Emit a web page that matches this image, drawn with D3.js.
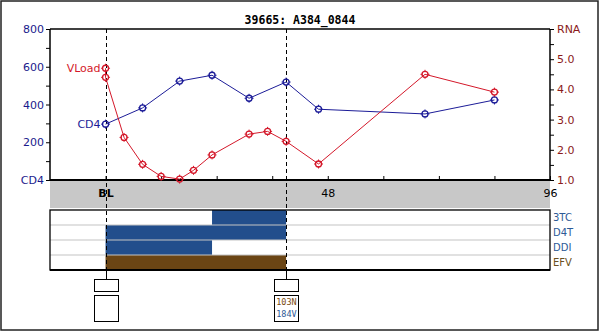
<!DOCTYPE html>
<html><head><meta charset="utf-8">
<script src="https://cdn.jsdelivr.net/npm/d3@7"></script>
<style>body{margin:0;background:#fff}svg{display:block}</style>
</head><body>
<svg id="c" width="600" height="332"></svg>
<script>
const title = "39665: A384_0844";
const cd4Weeks = [0, 8, 16, 23, 31, 39, 46, 69, 84];
const cd4Values = [296, 382, 524, 555, 433, 519, 375, 350, 424];
const rnaWeeks = [0, 0, 4, 8, 12, 16, 19, 23, 31, 35, 39, 46, 69, 84];
const rnaValues = [4.70, 4.40, 2.41, 1.52, 1.12, 1.03, 1.32, 1.83, 2.52, 2.61, 2.28, 1.53, 4.50, 3.91];
const cd4TickValues = [0, 100, 200, 300, 400, 500, 600, 700, 800];
const cd4TickLabels = {0: "CD4", 200: "200", 400: "400", 600: "600", 800: "800"};
const rnaTickValues = [1, 1.5, 2, 2.5, 3, 3.5, 4, 4.5, 5, 5.5, 6];
const rnaTickLabels = {1: "1.0", 2: "2.0", 3: "3.0", 4: "4.0", 5: "5.0", 6: "RNA"};
const weekTickValues = [0, 12, 24, 36, 48, 60, 72, 84, 96];
const weekTickLabels = {0: "BL", 48: "48", 96: "96"};
const drugs = ["3TC", "D4T", "DDI", "EFV"];
const drugStart = [23, 0, 0, 0];
const drugEnd = [39, 39, 23, 39];
const drugColors = ["#224e8c", "#224e8c", "#224e8c", "#6b4514"];
const drugLabelColors = ["#2d5a96", "#2d5a96", "#2d5a96", "#6b5020"];
const genoWeeks = [0, 39];
const genoMutations = [[], [["103N", "#7a4a10"], ["184V", "#2d5a96"]]];

const svg = d3.select("#c");
const font = "DejaVu Sans, Verdana, sans-serif";
const L = 50, R = 550, T = 29, B = 180;
const x = d3.scaleLinear().domain([-12, 96]).range([L, R]);
const yC = d3.scaleLinear().domain([0, 800]).range([B, T]);
const yR = d3.scaleLinear().domain([1, 6]).range([B, T]);

// outer border
svg.append("rect").attr("x", 1).attr("y", 1).attr("width", 597).attr("height", 329)
  .attr("fill", "none").attr("stroke", "#222").attr("stroke-width", 1.5);

// title
svg.append("text").attr("x", 300).attr("y", 24).attr("text-anchor", "middle")
  .attr("font-family", "DejaVu Sans Mono, monospace").attr("font-weight", "bold")
  .attr("font-size", 11.5).text(title);

// gray band
svg.append("rect").attr("x", L).attr("y", B).attr("width", R - L).attr("height", 28).attr("fill", "#c8c8c8");

// frame lines
svg.append("line").attr("x1", L).attr("x2", R).attr("y1", T).attr("y2", T).attr("stroke", "#000").attr("stroke-width", 1.5);
svg.append("line").attr("x1", L).attr("x2", L).attr("y1", T).attr("y2", B).attr("stroke", "#000").attr("stroke-width", 1.5);
svg.append("line").attr("x1", R).attr("x2", R).attr("y1", T).attr("y2", B).attr("stroke", "#000").attr("stroke-width", 1.5);

// left axis
const la = svg.append("g").attr("transform", `translate(${L},0)`)
  .call(d3.axisLeft(yC).tickValues(cd4TickValues).tickSize(4).tickSizeOuter(0)
    .tickFormat(d => cd4TickLabels[d] || ""));
la.select(".domain").remove();
la.selectAll("line").attr("stroke", "#000");
la.selectAll("text").attr("font-family", font).attr("font-size", 11).attr("fill", "#1a1a8c").attr("x", -6);

// right axis
const ra = svg.append("g").attr("transform", `translate(${R},0)`)
  .call(d3.axisRight(yR).tickValues(rnaTickValues).tickSize(4).tickSizeOuter(0)
    .tickFormat(d => rnaTickLabels[d] || ""));
ra.select(".domain").remove();
ra.selectAll("line").attr("stroke", "#000");
ra.selectAll("text").attr("font-family", font).attr("font-size", 11).attr("fill", "#8b1a1a").attr("x", 7);

// bottom axis (ticks up, labels in gray band)
const ba = svg.append("g").attr("transform", `translate(0,${B})`)
  .call(d3.axisBottom(x).tickValues(weekTickValues).tickSize(-4).tickSizeOuter(0)
    .tickFormat(d => weekTickLabels[d] || ""));
ba.select(".domain").remove();
ba.selectAll("line").attr("stroke", "#000");
ba.selectAll("text").attr("font-family", font).attr("font-size", 11).attr("fill", "#000").attr("y", 9)
  .attr("font-weight", d => d === 0 ? "bold" : "normal");
svg.append("line").attr("x1", L).attr("x2", R).attr("y1", B).attr("y2", B).attr("stroke", "#000").attr("stroke-width", 2);

// treatment panel
const PT = 210, rowH = 15;
drugs.forEach((d, i) => {
  svg.append("rect").attr("x", x(drugStart[i])).attr("y", PT + i * rowH)
    .attr("width", x(drugEnd[i]) - x(drugStart[i])).attr("height", rowH).attr("fill", drugColors[i]);
  svg.append("text").attr("x", R + 3).attr("y", PT + i * rowH + 11)
    .attr("font-family", font).attr("font-size", 10).attr("fill", drugLabelColors[i]).text(d);
});
for (let i = 1; i < drugs.length; i++) {
  svg.append("line").attr("x1", L).attr("x2", R).attr("y1", PT + i * rowH).attr("y2", PT + i * rowH)
    .attr("stroke", "#c4c4c4").attr("stroke-width", 1.2);
}
svg.append("rect").attr("x", L).attr("y", PT).attr("width", R - L).attr("height", rowH * 4)
  .attr("fill", "none").attr("stroke", "#000").attr("stroke-width", 1.3);
svg.append("line").attr("x1", L).attr("x2", R).attr("y1", PT + rowH * 4).attr("y2", PT + rowH * 4)
  .attr("stroke", "#000").attr("stroke-width", 2);

// dashed genotype lines and boxes
genoWeeks.forEach((w, i) => {
  const gx = Math.round(x(w)) + 0.5;
  svg.append("line").attr("x1", gx).attr("x2", gx).attr("y1", T).attr("y2", PT + rowH * 4)
    .attr("stroke", "#000").attr("stroke-dasharray", "4,3");
  svg.append("line").attr("x1", gx).attr("x2", gx).attr("y1", PT + rowH * 4).attr("y2", 279)
    .attr("stroke", "#000");
  svg.append("rect").attr("x", gx - 12).attr("y", 279.5).attr("width", 24).attr("height", 12)
    .attr("fill", "#fff").attr("stroke", "#000");
  svg.append("rect").attr("x", gx - 12).attr("y", 295.5).attr("width", 24).attr("height", 26)
    .attr("fill", "#fff").attr("stroke", "#000");
  genoMutations[i].forEach((m, j) => {
    svg.append("text").attr("x", gx).attr("y", 305 + j * 12).attr("text-anchor", "middle")
      .attr("font-family", "DejaVu Sans Mono, monospace").attr("font-size", 8.5)
      .attr("fill", m[1]).text(m[0]);
  });
});

// markers
function marker(g, px, py, color) {
  g.append("circle").attr("cx", px).attr("cy", py).attr("r", 3)
    .attr("fill", "none").attr("stroke", color).attr("stroke-width", 1.3);
  g.append("path").attr("d", `M${px-4.5},${py}H${px-2.5}M${px+2.5},${py}H${px+4.5}M${px},${py-4.5}V${py-2.5}M${px},${py+2.5}V${py+4.5}`)
    .attr("stroke", color).attr("stroke-width", 1);
}

const blue = "#1c1c98", red = "#d4182a";
const cd4Data = cd4Weeks.map((w, i) => [w, cd4Values[i]]);
const rnaData = rnaWeeks.map((w, i) => [w, rnaValues[i]]);

svg.append("path").datum(cd4Data)
  .attr("d", d3.line().x(d => x(d[0])).y(d => yC(d[1])))
  .attr("fill", "none").attr("stroke", blue).attr("stroke-width", 1);
svg.append("path").datum(rnaData)
  .attr("d", d3.line().x(d => x(d[0])).y(d => yR(d[1])))
  .attr("fill", "none").attr("stroke", red).attr("stroke-width", 1);

const gm = svg.append("g");
cd4Data.forEach(d => marker(gm, x(d[0]), yC(d[1]), blue));
rnaData.forEach(d => marker(gm, x(d[0]), yR(d[1]), red));

// series labels
svg.append("text").attr("x", x(0) - 5).attr("y", yC(cd4Values[0]) + 4).attr("text-anchor", "end")
  .attr("font-family", font).attr("font-size", 11).attr("fill", blue).text("CD4");
svg.append("text").attr("x", x(0) - 5).attr("y", yR(rnaValues[0]) + 4).attr("text-anchor", "end")
  .attr("font-family", font).attr("font-size", 11).attr("fill", red).text("VLoad");
</script>
</body></html>
